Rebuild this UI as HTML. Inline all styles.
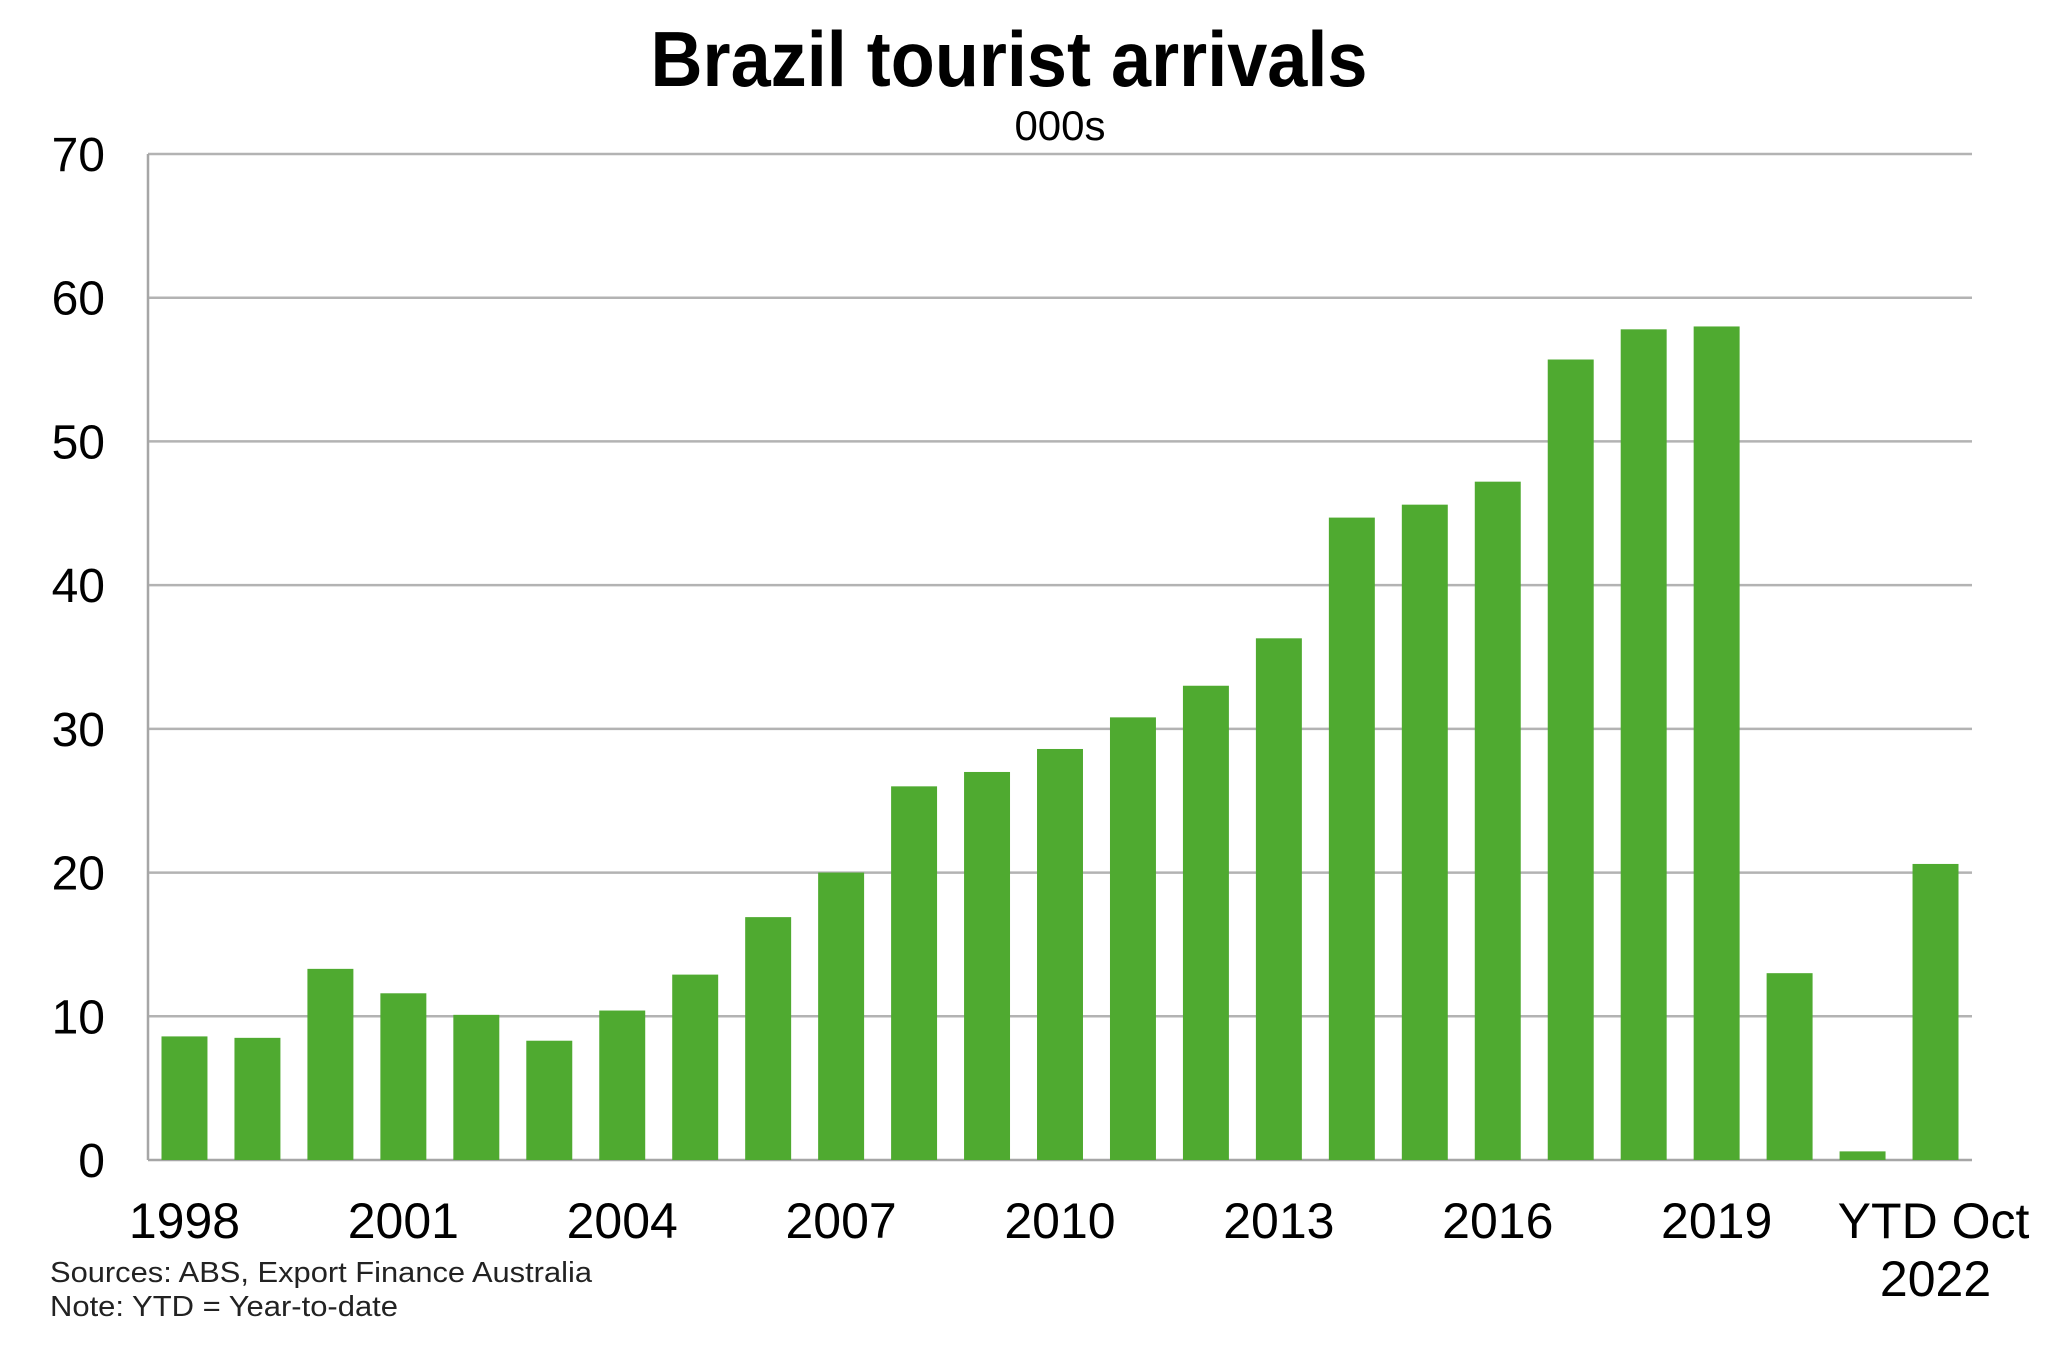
<!DOCTYPE html>
<html><head><meta charset="utf-8"><style>
html,body{margin:0;padding:0;background:#fff;}
svg{display:block;font-family:"Liberation Sans",Arial,sans-serif;}
</style></head><body>
<svg id="chart" width="2048" height="1345" viewBox="0 0 2048 1345" xmlns="http://www.w3.org/2000/svg">
<text x="1009" y="86" text-anchor="middle" font-size="78" font-weight="bold" textLength="717" lengthAdjust="spacingAndGlyphs" fill="#000">Brazil tourist arrivals</text>
<text x="1060" y="140" text-anchor="middle" font-size="42" fill="#000">000s</text>
<g id="grid"></g>
<g id="yticks"></g>
<g id="bars"></g>
<g id="xticks"></g>
<text x="50" y="1282" font-size="29" fill="#222" textLength="542" lengthAdjust="spacingAndGlyphs">Sources: ABS, Export Finance Australia</text>
<text x="50" y="1316" font-size="29" fill="#222" textLength="348" lengthAdjust="spacingAndGlyphs">Note: YTD = Year-to-date</text>
</svg>
<script>
const categories = ["1998","1999","2000","2001","2002","2003","2004","2005","2006","2007","2008","2009","2010","2011","2012","2013","2014","2015","2016","2017","2018","2019","2020","2021","YTD Oct 2022"];
const values = [8.6,8.5,13.3,11.6,10.1,8.3,10.4,12.9,16.9,20,26,27,28.6,30.8,33,36.3,44.7,45.6,47.2,55.7,57.8,58,13,0.6,20.6];
const yTicks = [0,10,20,30,40,50,60,70];
const xLabelIdx = [0,3,6,9,12,15,18,21];

const NS="http://www.w3.org/2000/svg";
const L=148,R=1972,T=154,B=1160,yMax=70;
const y=v=>B-(v/yMax)*(B-T);
const band=(R-L)/categories.length;
const xc=i=>L+band*(i+0.5);
const bw=band*0.63;
function mk(tag,attrs,parent){const e=document.createElementNS(NS,tag);for(const k in attrs)e.setAttribute(k,attrs[k]);parent.appendChild(e);return e;}
const grid=document.getElementById('grid'),yt=document.getElementById('yticks'),bars=document.getElementById('bars'),xt=document.getElementById('xticks');
yTicks.forEach(t=>{
  if(t>0){const g=mk('line',{x1:L,x2:R,y1:y(t),y2:y(t),stroke:'#b3b3b3','stroke-width':2.5},grid);
  
  }
  const tx=mk('text',{x:105,y:y(t)+17,'text-anchor':'end','font-size':48,fill:'#000'},yt);
  tx.textContent=t;
  
  
});
const ax=mk('line',{x1:L,x2:L,y1:T,y2:B,stroke:'#a6a6a6','stroke-width':2.5},grid);


values.forEach((v,i)=>{
  const r=mk('rect',{x:xc(i)-bw/2,y:y(v),width:bw,height:B-y(v),fill:'#4faa30'},bars);
  
  
});
const base=mk('line',{x1:L,x2:R,y1:B,y2:B,stroke:'#a6a6a6','stroke-width':2.5},grid);


xLabelIdx.forEach(i=>{
  const tx=mk('text',{x:xc(i),y:1238,'text-anchor':'middle','font-size':50,fill:'#000'},xt);
  tx.textContent=categories[i];
  
  
});
const li=categories.length-1;
const t1=mk('text',{x:xc(li)-2,y:1238,'text-anchor':'middle','font-size':50,fill:'#000'},xt);
t1.textContent="YTD Oct";


const t2=mk('text',{x:xc(li),y:1296,'text-anchor':'middle','font-size':50,fill:'#000'},xt);
t2.textContent="2022";


</script>
</body></html>
